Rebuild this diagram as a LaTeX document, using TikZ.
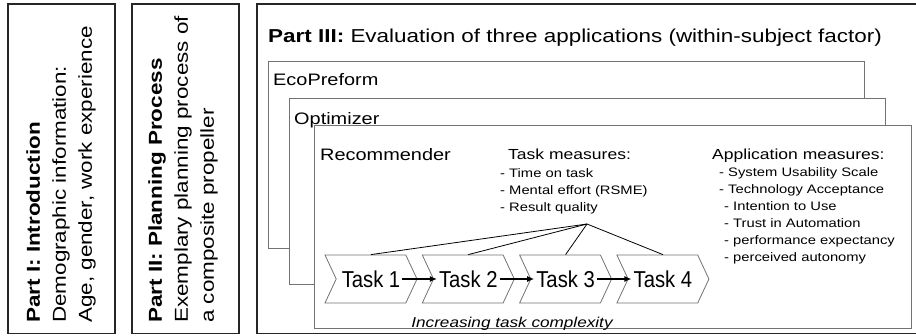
\documentclass[tikz,border=0pt]{standalone}
\usepackage{fontspec}
\setmainfont{Liberation Sans}[FakeStretch=1.2]
\newfontfamily\taskfamily{Liberation Sans}[FakeStretch=0.88]
\usetikzlibrary{arrows.meta, positioning, shapes.symbols}
\newcommand\partsize{\fontsize{18.7}{26}\selectfont}
\newcommand\appsize{\fontsize{16.6}{20}\selectfont}
\newcommand\tasksize{\taskfamily\fontsize{23}{26}\selectfont}
\newcommand\headsize{\fontsize{14.6}{17}\selectfont}
\newcommand\itemsize{\fontsize{12.3}{17}\selectfont}
\newcommand\notesize{\fontsize{14.3}{17}\selectfont}

\tikzset{
  partbox/.style={draw=black!85, line width=1.2pt},
  appbox/.style={draw=black!55, line width=0.8pt, fill=white},
  label/.style={anchor=base west, inner sep=0pt},
  chev/.style={signal, signal from=west, signal to=east, signal pointer angle=130,
    draw=black!55, line width=0.8pt, fill=white, minimum width=92pt,
    minimum height=48pt, inner sep=0pt},
  tasktext/.style={font=\tasksize, inner sep=2pt},
  seq/.style={line width=1.1pt, -{Latex[length=7pt,width=6pt]}},
  link/.style={line width=0.8pt},
}

\begin{document}
\begin{tikzpicture}[x=1pt, y=-1pt]
  \clip (0,0) rectangle (916,335);
  % Part I and Part II
  \draw[partbox] (8,4) rectangle (115,333.5);
  \draw[partbox] (132,4) rectangle (239,333.5);
  \node[rotate=90, anchor=west, align=left, inner sep=0pt, font=\partsize] (intro) at (61,323)
    {\textbf{Part I: Introduction}\\Demographic information:\\Age, gender, work experience};
  \node[rotate=90, anchor=west, align=left, inner sep=0pt, font=\partsize] (planning) at (183,323)
    {\textbf{Part II: Planning Process}\\Exemplary planning process of\\a composite propeller};
  % Part III
  \draw[partbox] (257,4) rectangle (930,333.5);
  \node[label, font=\partsize] (evaluation) at (268,42)
    {\textbf{Part III:} Evaluation of three applications (within-subject factor)};
  % stacked applications
  \draw[appbox] (268,61) rectangle (864,248);
  \node[label, font=\appsize] (eco) at (273,85) {EcoPreform};
  \draw[appbox] (289,98) rectangle (885,284);
  \node[label, font=\appsize] (opt) at (294,124) {Optimizer};
  \draw[appbox] (314,125) rectangle (911,328);
  \node[label, font=\appsize] (rec) at (320,160) {Recommender};
  % measures
  \node[label, font=\headsize] (taskhead) at (508,159.5) {Task measures:};
  \foreach \txt [count=\i] in {- Time on task, - Mental effort (RSME), - Result quality}
    \node[label, font=\itemsize] (taskitem\i) at (500,177+17.2*\i-17.2) {\txt};
  \node[label, font=\headsize] (apphead) at (712,159.5) {Application measures:};
  \foreach \x/\txt [count=\i] in {719/- System Usability Scale, 719/- Technology Acceptance,
      724/- Intention to Use, 724/- Trust in Automation, 724/- performance expectancy,
      724/- perceived autonomy}
    \node[label, font=\itemsize] (appitem\i) at (\x,176.5+16.9*\i-16.9) {\txt};
  % tasks
  \foreach \i/\x in {1/371, 2/468.3, 3/565.6, 4/662.9} {
    \node[chev] (c\i) at (\x,279) {};
    \node[tasktext] (t\i) at (\x,279) {Task \i};
  }
  \foreach \i/\j in {1/2, 2/3, 3/4}
    \draw[seq] (t\i) -- (t\j);
  \coordinate (apex) at (587,224);
  \foreach \i in {1,...,4}
    \draw[link] (apex) -- (c\i.north);
  \node[font=\notesize\itshape, inner sep=0pt] (complexity) at (512,324) {Increasing task complexity};
\end{tikzpicture}
\end{document}
